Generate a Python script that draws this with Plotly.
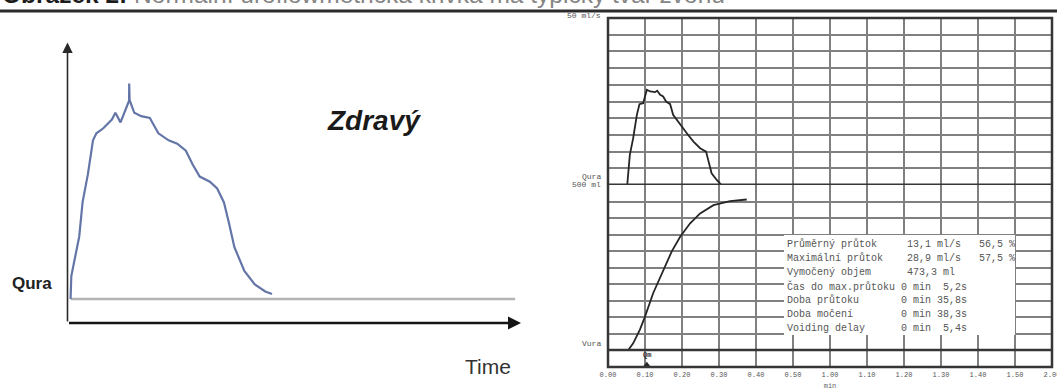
import plotly.graph_objects as go

W, H = 1057, 390


def px_x(p):
    return p / W


def px_y(p):
    return 1 - p / H


# ---------------- data ----------------
# Left schematic ("Zdravý"): time (arbitrary units), flow above Qura baseline (arbitrary units)
left_t = [0.68, 0.68, 0.84, 2.58, 3.33, 4.48, 5.62, 6.37, 7.89, 9.79, 10.56, 11.69, 12.83,
          13.58, 13.6, 13.7, 14.73, 16.25, 18.15, 20.04, 22.3, 24.2, 26.1, 27.6, 29.15,
          31.4, 33.0, 34.5, 35.6, 36.8, 39.0, 41.3, 43.6, 45.1]
left_f = [0, 2.7, 8.2, 22.2, 34.5, 44.3, 56.5, 59.0, 60.8, 63.9, 66.3, 62.9, 67.5,
          70.6, 76.7, 70.8, 66.3, 65.1, 64.5, 59.0, 56.5, 55.3, 52.8, 47.9, 43.6,
          41.8, 39.4, 34.4, 27.1, 18.5, 10.0, 5.2, 2.7, 1.8]

# Right uroflowmetry record: time in seconds
flow_t = [5.2, 5.9, 6.8, 7.8, 8.5, 9.5, 10.5, 11.4, 12.7, 13.3, 14.1, 14.9, 15.7, 16.8,
          17.6, 19.5, 21.3, 23.1, 24.9, 26.5, 27.1, 28.0, 29.4, 30.5]
flow_q = [0, 9, 14, 21, 24.2, 24.5, 28.5, 28, 27.8, 28.2, 27, 26.5, 25, 24.2,
          21, 18, 15.5, 13, 11, 10, 7, 3.5, 1.5, 0.2]          # ml/s

vol_t = [5.5, 6.8, 8.6, 10, 12.2, 14.9, 17.2, 19.5, 22.2, 24.9, 28.5, 33, 37.5]
vol_v = [0, 20, 61, 101, 172, 242, 298, 343, 384, 414, 439, 451, 456]   # ml

qm_time = 10.5

time_ticks = [0, 10, 20, 30, 40, 50, 60, 70, 80, 90, 100, 110, 120]
time_labels = ["0.00", "0.10", "0.20", "0.30", "0.40", "0.50", "1.00", "1.10",
               "1.20", "1.30", "1.40", "1.50", "2.00"]

stat_labels = ["Průměrný průtok", "Maximální průtok", "Vymočený objem",
               "Čas do max.průtoku", "Doba průtoku", "Doba močení", "Voiding delay"]
stat_values = ["13,1 ml/s", "28,9 ml/s", "473,3 ml",
               "0 min  5,2s", "0 min 35,8s", "0 min 38,3s", "0 min  5,4s"]
stat_pct = ["56,5 %", "57,5 %", "", "", "", "", ""]

# ---------------- figure ----------------
GRID = "#808080"
DARK = "#363636"
MONO = "Liberation Mono, DejaVu Sans Mono, monospace"
SANS = "Liberation Sans, Arial, sans-serif"

fig = go.Figure()

fig.add_trace(go.Scatter(x=left_t, y=left_f, xaxis="x", yaxis="y", mode="lines",
                         line=dict(color="#6475a8", width=2.2), hoverinfo="skip"))
fig.add_trace(go.Scatter(x=flow_t, y=flow_q, xaxis="x2", yaxis="y2", mode="lines",
                         line=dict(color="#262626", width=1.8), hoverinfo="skip"))
fig.add_trace(go.Scatter(x=vol_t, y=vol_v, xaxis="x3", yaxis="y3", mode="lines",
                         line=dict(color="#262626", width=1.8), hoverinfo="skip"))
fig.add_trace(go.Scatter(x=[qm_time], y=[-45], xaxis="x3", yaxis="y3", mode="markers",
                         marker=dict(symbol="triangle-up", size=6, color="#262626"),
                         hoverinfo="skip"))

right_dom = [px_x(608), px_x(1052)]
grid_x = dict(range=[0, 120], tickvals=time_ticks, showgrid=True, gridcolor=GRID,
              gridwidth=1.6, zeroline=False, showline=False, domain=right_dom,
              fixedrange=True, automargin=False)

fig.update_layout(
    width=W, height=H, margin=dict(l=0, r=0, t=0, b=0, autoexpand=False),
    paper_bgcolor="white", plot_bgcolor="white", showlegend=False, hovermode=False,
    xaxis=dict(domain=[px_x(67.5), px_x(521)], range=[0, 100], visible=False, anchor="y",
               automargin=False),
    yaxis=dict(domain=[px_y(323), px_y(42)], range=[-8.5, 91.5], visible=False, anchor="x",
               automargin=False),
    xaxis2=dict(**grid_x, anchor="y2", showticklabels=False),
    yaxis2=dict(domain=[px_y(185), px_y(18)], range=[0, 50], tick0=0, dtick=5,
                showgrid=True, gridcolor=GRID, gridwidth=1.6, zeroline=False,
                showticklabels=False, anchor="x2", automargin=False),
    xaxis3=dict(**grid_x, anchor="y3", ticktext=time_labels, showticklabels=True,
                ticks="", tickfont=dict(family=MONO, size=7, color="#555"),
                ticklabelstandoff=2, ticklabeloverflow="allow",
                title=dict(text="min", font=dict(family=MONO, size=7, color="#666"),
                           standoff=5)),
    yaxis3=dict(domain=[px_y(367), px_y(185)], range=[-51.5, 500], tick0=0, dtick=50,
                showgrid=True, gridcolor=GRID, gridwidth=1.6, zeroline=False,
                showticklabels=False, anchor="x3", automargin=False),
)

shapes = [
    # rule under the caption
    dict(type="line", xref="paper", yref="paper", x0=0, x1=1, y0=px_y(11), y1=px_y(11),
         line=dict(color="#2b2b2b", width=3)),
    # Qura baseline on the schematic
    dict(type="line", xref="x", yref="y", x0=0.8, x1=98.7, y0=0, y1=0,
         line=dict(color="#b4b4b4", width=2.5), layer="below"),
    # chart paper border and dividers
    dict(type="rect", xref="paper", yref="paper", x0=right_dom[0], x1=right_dom[1],
         y0=px_y(367), y1=px_y(18), line=dict(color=DARK, width=2.5), layer="above"),
    dict(type="line", xref="x2", yref="y2", x0=0, x1=120, y0=0, y1=0,
         line=dict(color=DARK, width=3), layer="above"),
    dict(type="line", xref="x3", yref="y3", x0=0, x1=120, y0=0, y1=0,
         line=dict(color=DARK, width=2.5), layer="above"),
    # white box behind the statistics
    dict(type="rect", xref="paper", yref="paper", x0=px_x(784), x1=px_x(1015),
         y0=px_y(335), y1=px_y(235), fillcolor="white", line=dict(width=0), layer="above"),
]
fig.update_layout(shapes=shapes)


def label(x, y, text, font, xanchor="center", yanchor="middle", xref="paper"):
    return dict(xref=xref, yref="paper", x=x, y=y, xanchor=xanchor, yanchor=yanchor,
                showarrow=False, text=text, font=font)


ann = []
# caption (partly cut at the top edge, as in the source image)
ann.append(label(0, px_y(10), "<b>Obrázek 2:</b> <span style='color:#858585'>Normální "
                 "uroflowmetrická křivka má typický tvar zvonu</span>",
                 dict(family=SANS, size=24.5, color="#1c1c1c"),
                 xanchor="left", yanchor="bottom"))
# schematic axes with arrows
ann.append(dict(xref="x", yref="y", axref="x", ayref="y", x=0, y=91.3, ax=0, ay=-8.5,
                text="", showarrow=True, arrowhead=2, arrowsize=1.3, arrowwidth=1.6,
                arrowcolor="#2a2a2a"))
ann.append(dict(xref="x", yref="y", axref="x", ayref="y", x=100, y=-8.5, ax=0, ay=-8.5,
                text="", showarrow=True, arrowhead=2, arrowsize=1.0, arrowwidth=2.6,
                arrowcolor="#151515"))
ann.append(label(px_x(374), px_y(120), "<b><i>Zdravý</i></b>",
                 dict(family=SANS, size=28, color="#1a1a1a")))
ann.append(label(px_x(32), px_y(283), "<b>Qura</b>", dict(family=SANS, size=17, color="#222")))
ann.append(label(px_x(488), px_y(366), "Time", dict(family=SANS, size=21, color="#333")))

# chart-paper labels
small = dict(family=MONO, size=8, color="#555")
for txt, yy in [("50 ml/s", 16), ("Qura", 176.5), ("500 ml", 184.5), ("Vura", 343)]:
    ann.append(label(px_x(603), px_y(yy), txt, small, xanchor="right"))
ann.append(label(qm_time, px_y(355), "<b>Qm</b>", dict(family=MONO, size=7, color="#333"),
                 xref="x3"))

# statistics block
NB = "\u00a0"
for i, (lab, val, pct) in enumerate(zip(stat_labels, stat_values, stat_pct)):
    col = 19 if val.startswith("0 min") else 20
    line = lab + NB * (col - len(lab)) + val.replace(" ", NB)
    if pct:
        line += NB * 3 + pct.replace(" ", NB)
    ann.append(label(px_x(785), px_y(244 + 14 * i), line,
                     dict(family=MONO, size=10, color="#555"), xanchor="left"))

fig.update_layout(annotations=ann)

fig.write_html("out.html", config={"displayModeBar": False},
               post_script="document.body.style.margin='0';document.body.style.overflow='hidden';")
